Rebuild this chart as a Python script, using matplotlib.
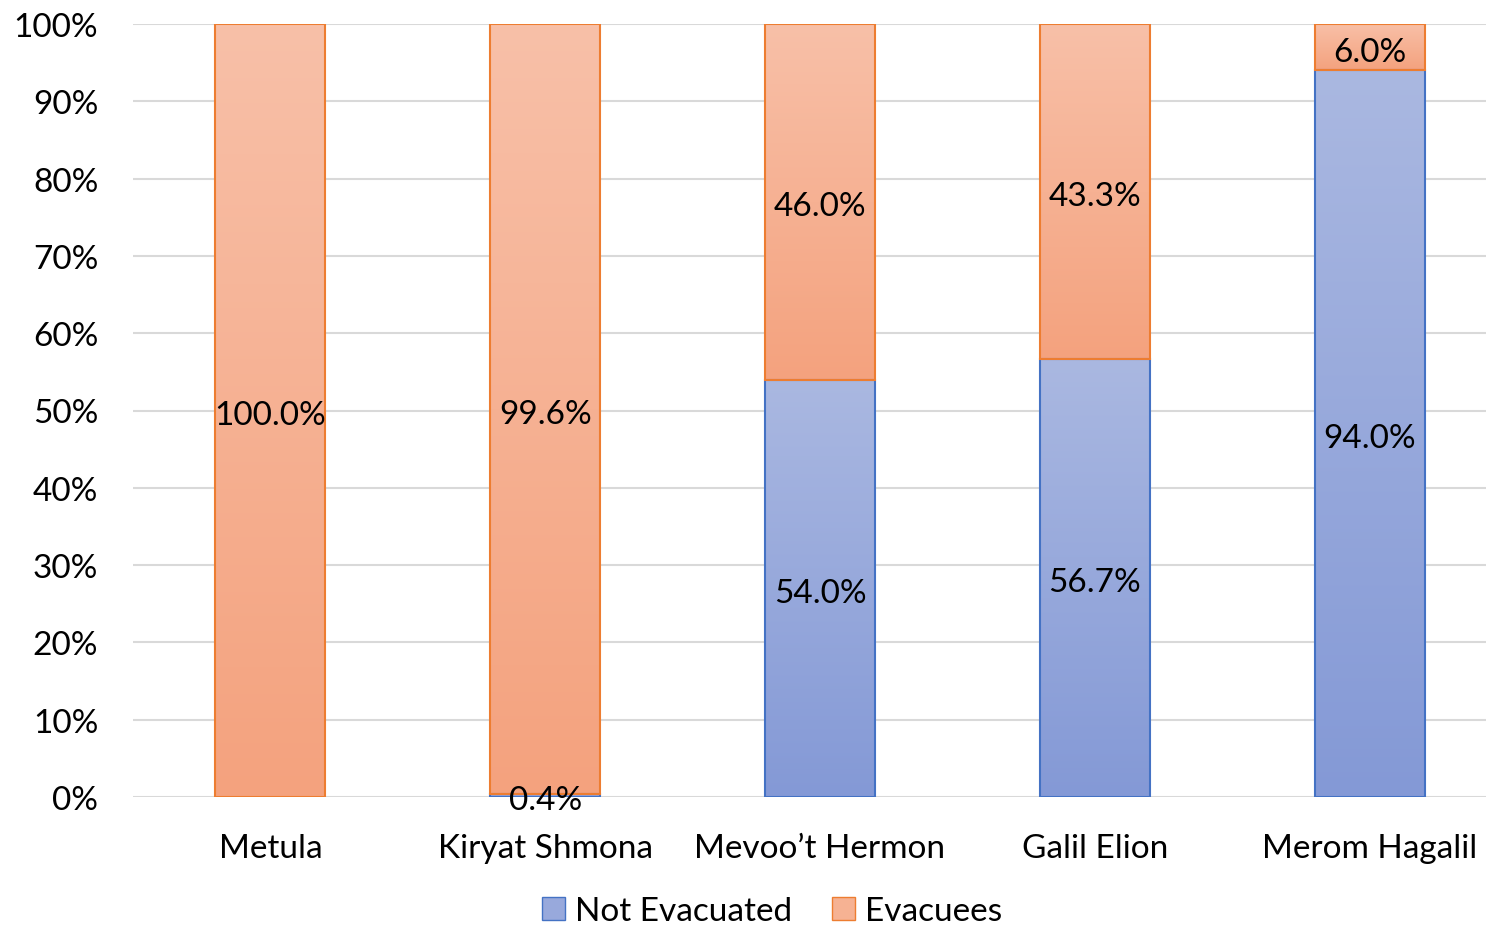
import numpy as np
import matplotlib
matplotlib.use('Agg')
import matplotlib.pyplot as plt
from matplotlib.colors import LinearSegmentedColormap
from matplotlib.patches import Patch

plt.rcParams['font.family'] = ['Lato', 'DejaVu Sans']

# data
towns = ['Metula', 'Kiryat Shmona', 'Mevoo\u2019t Hermon', 'Galil Elion', 'Merom Hagalil']
not_evacuated = [0.0, 0.4, 54.0, 56.7, 94.0]
evacuees = [100.0, 99.6, 46.0, 43.3, 6.0]

blue_cmap = LinearSegmentedColormap.from_list('b', ['#8499d6', '#aab8e1'])
orange_cmap = LinearSegmentedColormap.from_list('o', ['#f4a27e', '#f8c0a8'])
blue_edge = '#4472c4'
orange_edge = '#ed7d31'
FS = 24

fig = plt.figure(figsize=(14.86, 9.29), dpi=100)
# axes run slightly past the right edge, like the original
ax = fig.add_axes([133/1486, 1-798/929, 1374/1486, 773/929])

x = np.arange(len(towns))
w = 0.40
grad = np.linspace(0, 1, 256).reshape(-1, 1)

def seg(xc, bottom, height, cmap, edge):
    if height <= 0:
        return
    ax.imshow(grad, cmap=cmap, origin='lower', aspect='auto',
              extent=(xc - w/2, xc + w/2, bottom, bottom + height), zorder=2)
    ax.bar(xc, height, w, bottom=bottom, facecolor='none', edgecolor=edge,
           linewidth=1.5, zorder=3)

for i in range(len(towns)):
    seg(x[i], 0, not_evacuated[i], blue_cmap, blue_edge)
    seg(x[i], not_evacuated[i], evacuees[i], orange_cmap, orange_edge)

# data labels (nudged down a bit, text baseline differs from Calibri)
dy = -0.6
for i in range(len(towns)):
    if not_evacuated[i] > 0:
        ax.text(x[i], not_evacuated[i]/2 + dy, f'{not_evacuated[i]:.1f}%', ha='center', va='center',
                fontsize=FS, zorder=5)
    ax.text(x[i], not_evacuated[i] + evacuees[i]/2 + dy,
            f'{evacuees[i]:.1f}%', ha='center', va='center', fontsize=FS, zorder=5)

ax.set_xlim(-0.5, len(towns) - 0.5)
ax.set_ylim(0, 100)
ax.set_yticks(np.arange(0, 101, 10))
ax.set_yticklabels([f'{v}%' for v in range(0, 101, 10)])
ax.set_xticks(x)
ax.set_xticklabels(towns)
ax.tick_params(axis='both', length=0, labelsize=FS)
ax.tick_params(axis='y', pad=25)
ax.tick_params(axis='x', pad=26)
ax.grid(axis='y', color='#d9d9d9', linewidth=1.5, zorder=0)
ax.set_axisbelow(True)
for s in ax.spines.values():
    s.set_visible(False)

handles = [Patch(facecolor='#98a9dc', edgecolor=blue_edge, label='Not Evacuated'),
           Patch(facecolor='#f6b293', edgecolor=orange_edge, label='Evacuees')]
fig.legend(handles=handles, loc='center', bbox_to_anchor=(772/1486, 1-912/929), ncol=2,
           frameon=False, fontsize=FS, handlelength=0.7, handleheight=0.7,
           handletextpad=0.3, columnspacing=1.2, borderpad=0.1)

fig.savefig('out.png', dpi=100)
